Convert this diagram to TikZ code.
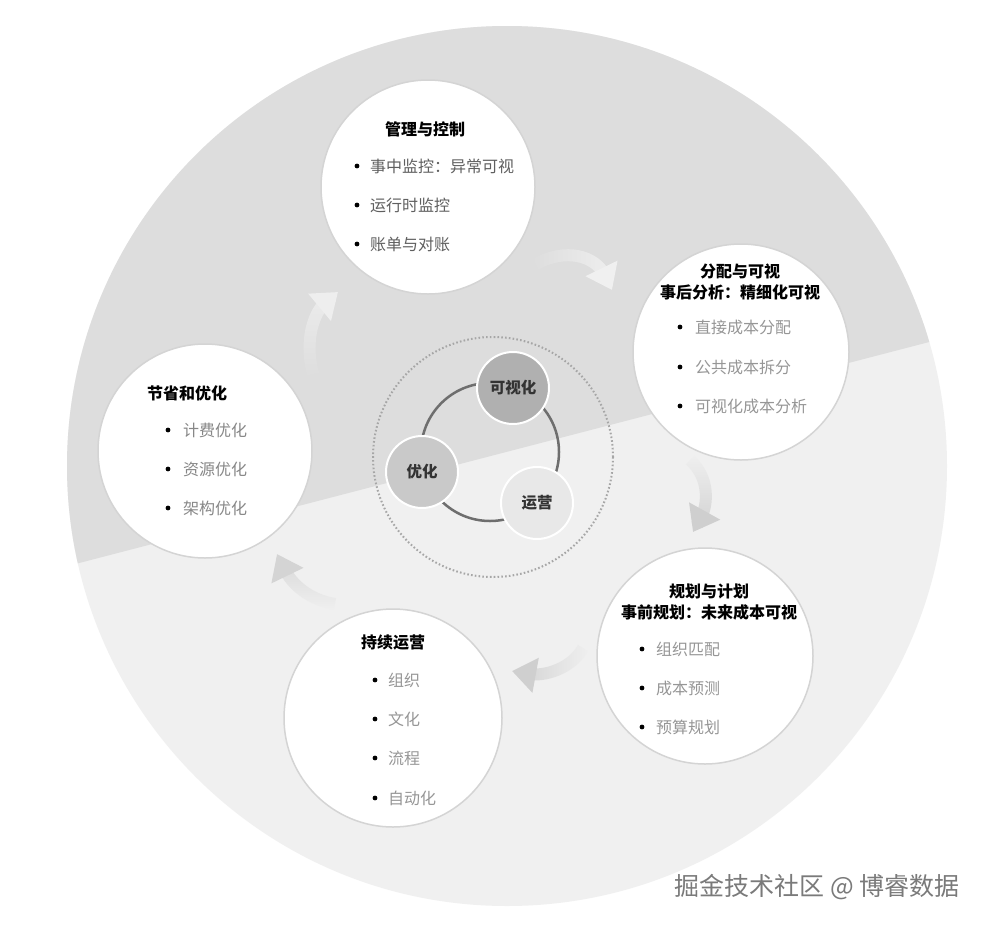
\documentclass[tikz,border=0pt]{standalone}
\usepackage{fontspec}
\setmainfont{Noto Sans CJK SC}
\usetikzlibrary{arrows.meta,fadings,calc}
\definecolor{upgray}{RGB}{221,221,221}
\definecolor{lowgray}{RGB}{240,240,240}
\definecolor{ringgray}{RGB}{110,110,110}
\definecolor{itemdark}{RGB}{95,95,95}
\definecolor{itemlight}{RGB}{150,150,150}
\tikzset{
  bubble/.style={circle,draw=black!17,line width=1.5pt,fill=white,minimum size=#1,inner sep=0pt},
  hub/.style={circle,draw=white,line width=2pt,fill=#1,minimum size=72pt,inner sep=0pt,
    font=\bfseries\fontsize{15.5}{18}\selectfont,text=black!80},
  head/.style={font=\bfseries\fontsize{16}{21}\selectfont,align=center,inner sep=0pt},
  item/.style={anchor=west,font=\fontsize{16}{20}\selectfont,inner sep=0pt,text=#1},
  shaft/.style={line width=12pt,draw=#1,shorten >=16pt},
  tipend/.style={line width=12pt,draw=#1,-{Triangle[width=34pt,length=24pt]}}
}

\begin{document}
\begin{tikzpicture}[x=1pt,y=-1pt]
\useasboundingbox (0,0) rectangle (985,927);
%
% backdrop: big disc, split in two greys
\fill[white] (0,0) rectangle (985,927);
\fill[lowgray] (507,466) circle (440);
\begin{scope}
\clip (507,466) circle (440);
\fill[upgray] (0,0) -- (985,0) -- (985,327.5) -- (0,583.6) -- cycle;
\end{scope}
%
% centre: dotted ring, loop, three hubs
\draw[black!35,line width=2pt,dash pattern=on 1.6pt off 2.2pt] (493,457) circle (120);
\draw[ringgray,line width=2.5pt] (490,452) circle (69);
\node[hub=black!31] (see) at (513,388) {可视化};
\node[hub=black!21] (opt) at (422,472) {优化};
\node[hub=black!9] (run) at (537,503) {运营};
%
% flow arrows between the big circles (tails fade out)
\coordinate (f1a) at (536,264);
\coordinate (f1c) at (595,255);
\coordinate (f1b) at (612,290);
\draw[shaft=white!55!upgray,path fading=west] (f1a) .. controls (565,248) and (f1c) .. (f1b);
\draw[tipend=white!55!upgray] ($(f1c)!0.75!(f1b)$) -- (f1b);
\coordinate (f2a) at (690,460);
\coordinate (f2c) at (708,505);
\coordinate (f2b) at (693,532);
\draw[shaft=black!19,path fading=north] (f2a) .. controls (710,478) and (f2c) .. (f2b);
\draw[tipend=black!19] ($(f2c)!0.75!(f2b)$) -- (f2b);
\coordinate (f3a) at (583,648);
\coordinate (f3c) at (545,677);
\coordinate (f3b) at (512,671);
\draw[shaft=black!19,path fading=east] (f3a) .. controls (572,668) and (f3c) .. (f3b);
\draw[tipend=black!19] ($(f3c)!0.75!(f3b)$) -- (f3b);
\coordinate (f4a) at (335,604);
\coordinate (f4c) at (292,585);
\coordinate (f4b) at (277,554);
\draw[shaft=black!17,path fading=south] (f4a) .. controls (310,600) and (f4c) .. (f4b);
\draw[tipend=black!17] ($(f4c)!0.75!(f4b)$) -- (f4b);
\coordinate (f5a) at (313,374);
\coordinate (f5c) at (314,312);
\coordinate (f5b) at (338,292);
\draw[shaft=white!50!upgray,path fading=south] (f5a) .. controls (304,340) and (f5c) .. (f5b);
\draw[tipend=white!50!upgray] ($(f5c)!0.75!(f5b)$) -- (f5b);
%
% top: 管理与控制
\node[bubble=214pt] (ctrl) at (428,187) {};
\node[head] (ctrlt) at (425,129) {管理与控制};
\fill (357,166) circle (2.4);
\node[item=itemdark] (ctrl1) at (370,166) {事中监控：异常可视};
\fill (357,205) circle (2.4);
\node[item=itemdark] (ctrl2) at (370,205) {运行时监控};
\fill (357,244) circle (2.4);
\node[item=itemdark] (ctrl3) at (370,244) {账单与对账};
%
% right: 分配与可视
\node[bubble=216pt] (alloc) at (741,352) {};
\node[head] (alloct) at (740,282) {分配与可视\\事后分析：精细化可视};
\fill (680,327) circle (2.4);
\node[item=itemlight] (alloc1) at (695,327) {直接成本分配};
\fill (680,367) circle (2.4);
\node[item=itemlight] (alloc2) at (695,367) {公共成本拆分};
\fill (680,406) circle (2.4);
\node[item=itemlight] (alloc3) at (695,406) {可视化成本分析};
%
% lower right: 规划与计划
\node[bubble=216pt] (plan) at (705,656) {};
\node[head] (plant) at (709,602) {规划与计划\\事前规划：未来成本可视};
\fill (642,649) circle (2.4);
\node[item=itemlight] (plan1) at (656,649) {组织匹配};
\fill (642,688) circle (2.4);
\node[item=itemlight] (plan2) at (656,688) {成本预测};
\fill (642,727) circle (2.4);
\node[item=itemlight] (plan3) at (656,727) {预算规划};
%
% bottom: 持续运营
\node[bubble=218pt] (ops) at (393,718) {};
\node[head] (opst) at (393,643) {持续运营};
\fill (375,680) circle (2.4);
\node[item=itemlight] (ops1) at (388,680) {组织};
\fill (375,719) circle (2.4);
\node[item=itemlight] (ops2) at (388,719) {文化};
\fill (375,758) circle (2.4);
\node[item=itemlight] (ops3) at (388,758) {流程};
\fill (375,798) circle (2.4);
\node[item=itemlight] (ops4) at (388,798) {自动化};
%
% left: 节省和优化
\node[bubble=214pt] (save) at (205,451) {};
\node[head] (savet) at (187,393) {节省和优化};
\fill (168,430) circle (2.4);
\node[item=black!47] (save1) at (183,430) {计费优化};
\fill (168,469) circle (2.4);
\node[item=black!47] (save2) at (183,469) {资源优化};
\fill (168,508) circle (2.4);
\node[item=black!47] (save3) at (183,508) {架构优化};
%
% watermark
\node[anchor=east,inner sep=0pt,font=\fontsize{25}{28}\selectfont,text=black!52] (mark) at (960,887) {掘金技术社区 @ 博睿数据};
\end{tikzpicture}
\end{document}
